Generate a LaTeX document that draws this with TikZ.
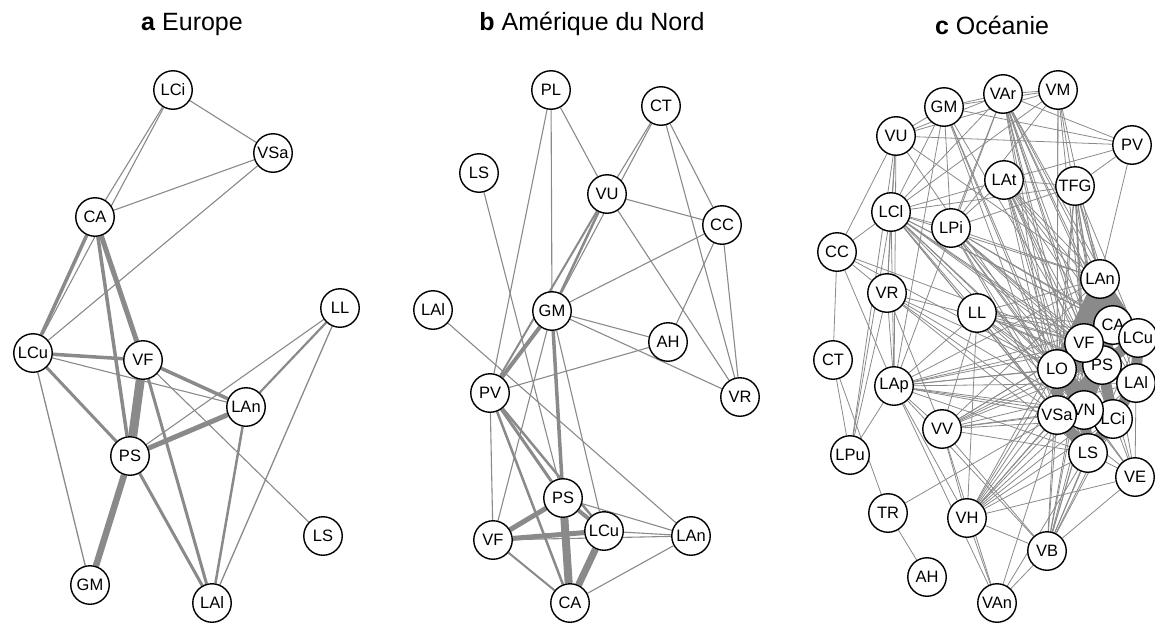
\documentclass[tikz,border=0pt]{standalone}
\usepackage{fontspec}
\setmainfont{Liberation Sans}
\usepackage{tikz}
\usetikzlibrary{backgrounds}
\definecolor{edgegray}{RGB}{138,138,138}
\tikzset{
  stn/.style={circle, draw=black, line width=1.4pt, fill=white, minimum size=38.5pt, inner sep=0pt, font=\fontsize{16.5}{16.5}\selectfont},
  lnk/.style={draw=edgegray, line width=1.1pt},
  ttl/.style={font=\fontsize{25}{25}\selectfont}
}
\begin{document}
\begin{tikzpicture}[x=1pt, y=-1pt]
        \useasboundingbox (0,0) rectangle (1155,624);
        \node[ttl] at (192,24) (ta) {\textbf{a} Europe};
        \node[ttl] at (592,24) (tb) {\textbf{b} Amérique du Nord};
        \node[ttl] at (992,25) (tc) {\textbf{c} Océanie};
        \node[stn] at (173,90)  (aLCi) {LCi};
        \node[stn] at (273,153) (aVSa) {VSa};
        \node[stn] at (95,217)  (aCA)  {CA};
        \node[stn] at (340,308) (aLL)  {LL};
        \node[stn] at (33,353)  (aLCu) {LCu};
        \node[stn] at (143,360) (aVF)  {VF};
        \node[stn] at (246,407) (aLAn) {LAn};
        \node[stn] at (130,456) (aPS)  {PS};
        \node[stn] at (323,536) (aLS)  {LS};
        \node[stn] at (90,585)  (aGM)  {GM};
        \node[stn] at (212,603) (aLAl) {LAl};
        \begin{scope}[on background layer]
          \draw[lnk] (aLCi) -- (aCA);
          \draw[lnk] (aLCi) -- (aLCu);
          \draw[lnk] (aLCi) -- (aVSa);
          \draw[lnk] (aVSa) -- (aCA);
          \draw[lnk] (aVSa) -- (aLCu);
          \draw[lnk, line width=3.5pt] (aCA) -- (aLCu);
          \draw[lnk, line width=3.5pt] (aCA) -- (aPS);
          \draw[lnk, line width=5pt]   (aCA) -- (aVF);
          \draw[lnk, line width=3.5pt] (aLCu) -- (aVF);
          \draw[lnk] (aLCu) -- (aLAn);
          \draw[lnk, line width=3pt]   (aLCu) -- (aPS);
          \draw[lnk, line width=1.3pt] (aLCu) -- (aGM);
          \draw[lnk, line width=3.5pt] (aVF) -- (aLAn);
          \draw[lnk, line width=9pt]   (aVF) -- (aPS);
          \draw[lnk, line width=3pt]   (aVF) -- (aLAl);
          \draw[lnk] (aVF) -- (aLS);
          \draw[lnk, line width=5pt]   (aLAn) -- (aPS);
          \draw[lnk, line width=2.2pt] (aLAn) -- (aLL);
          \draw[lnk, line width=2.5pt] (aLAn) -- (aLAl);
          \draw[lnk] (aLL) -- (aPS);
          \draw[lnk, line width=1.3pt] (aLL) -- (aLAl);
          \draw[lnk, line width=6.5pt] (aPS) -- (aGM);
          \draw[lnk, line width=3pt]   (aPS) -- (aLAl);
        \end{scope}
        \node[stn] at (551,90)  (bPL)  {PL};
        \node[stn] at (661,106) (bCT)  {CT};
        \node[stn] at (479,173) (bLS)  {LS};
        \node[stn] at (607,194) (bVU)  {VU};
        \node[stn] at (722,225) (bCC)  {CC};
        \node[stn] at (433,310) (bLAl) {LAl};
        \node[stn] at (552,311) (bGM)  {GM};
        \node[stn] at (668,342) (bAH)  {AH};
        \node[stn] at (490,393) (bPV)  {PV};
        \node[stn] at (740,397) (bVR)  {VR};
        \node[stn] at (563,498) (bPS)  {PS};
        \node[stn] at (604,531) (bLCu) {LCu};
        \node[stn] at (493,540) (bVF)  {VF};
        \node[stn] at (691,536) (bLAn) {LAn};
        \node[stn] at (570,603) (bCA)  {CA};
        \begin{scope}[on background layer]
          \draw[lnk] (bPL) -- (bGM);
          \draw[lnk] (bPL) -- (bVU);
          \draw[lnk] (bPL) -- (bPV);
          \draw[lnk] (bLS) -- (bPS);
          \draw[lnk] (bCT) -- (bVU);
          \draw[lnk] (bCT) -- (bGM);
          \draw[lnk] (bCT) -- (bCC);
          \draw[lnk] (bCT) -- (bVR);
          \draw[lnk] (bVU) -- (bCC);
          \draw[lnk] (bVU) -- (bVR);
          \draw[lnk, line width=2.5pt] (bVU) -- (bGM);
          \draw[lnk, line width=2pt]   (bVU) -- (bPV);
          \draw[lnk] (bCC) -- (bGM);
          \draw[lnk] (bCC) -- (bAH);
          \draw[lnk] (bCC) -- (bVR);
          \draw[lnk] (bGM) -- (bAH);
          \draw[lnk] (bGM) -- (bVR);
          \draw[lnk, line width=4pt]   (bGM) -- (bPV);
          \draw[lnk, line width=3.5pt] (bGM) -- (bPS);
          \draw[lnk] (bGM) -- (bVF);
          \draw[lnk] (bGM) -- (bLCu);
          \draw[lnk] (bLAl) -- (bLAn);
          \draw[lnk] (bAH) -- (bPV);
          \draw[lnk] (bPV) -- (bVF);
          \draw[lnk, line width=3pt]   (bPV) -- (bPS);
          \draw[lnk, line width=2.5pt] (bPV) -- (bLCu);
          \draw[lnk, line width=2.5pt] (bPV) -- (bCA);
          \draw[lnk, line width=5pt]   (bPS) -- (bVF);
          \draw[lnk, line width=8pt]   (bPS) -- (bCA);
          \draw[lnk, line width=4pt]   (bPS) -- (bLCu);
          \draw[lnk] (bPS) -- (bLAn);
          \draw[lnk, line width=5pt]   (bVF) -- (bLCu);
          \draw[lnk, line width=2pt]   (bVF) -- (bCA);
          \draw[lnk] (bVF) -- (bLAn);
          \draw[lnk, line width=7pt]   (bLCu) -- (bCA);
          \draw[lnk] (bLCu) -- (bLAn);
          \draw[lnk] (bCA) -- (bLAn);
        \end{scope}
        \node[stn] at (1003,94)  (cVAr) {VAr};
        \node[stn] at (1058,90)  (cVM)  {VM};
        \node[stn] at (944,107)  (cGM)  {GM};
        \node[stn] at (896,136)  (cVU)  {VU};
        \node[stn] at (1132,145) (cPV)  {PV};
        \node[stn] at (1004,180) (cLAt) {LAt};
        \node[stn] at (1075,186) (cTFG) {TFG};
        \node[stn] at (891,212)  (cLCl) {LCl};
        \node[stn] at (951,228)  (cLPi) {LPi};
        \node[stn] at (837,252)  (cCC)  {CC};
        \node[stn] at (887,293)  (cVR)  {VR};
        \node[stn] at (977,313)  (cLL)  {LL};
        \node[stn] at (833,360)  (cCT)  {CT};
        \node[stn] at (894,386)  (cLAp) {LAp};
        \node[stn] at (942,429)  (cVV)  {VV};
        \node[stn] at (850,455)  (cLPu) {LPu};
        \node[stn] at (888,513)  (cTR)  {TR};
        \node[stn] at (967,518)  (cVH)  {VH};
        \node[stn] at (1047,551) (cVB)  {VB};
        \node[stn] at (927,577)  (cAH)  {AH};
        \node[stn] at (997,603)  (cVAn) {VAn};
        \node[stn] at (1135,477) (cVE)  {VE};
        \node[stn] at (1102,365) (cPS)  {PS};
        \node[stn] at (1113,325) (cCA)  {CA};
        \node[stn] at (1138,338) (cLCu) {LCu};
        \node[stn] at (1084,343) (cVF)  {VF};
        \node[stn] at (1057,369) (cLO)  {LO};
        \node[stn] at (1136,383) (cLAl) {LAl};
        \node[stn] at (1113,419) (cLCi) {LCi};
        \node[stn] at (1084,410) (cVN)  {VN};
        \node[stn] at (1057,415) (cVSa) {VSa};
        \node[stn] at (1088,453) (cLS)  {LS};
        \node[stn] at (1100,279) (cLAn) {LAn};
        \begin{scope}[on background layer]
          \foreach \p in {cVAr,cLAt,cTFG,cLCl,cLPi,cLL,cLAp,cVV,cVH,cVB}
            \foreach \k in {cCA,cLCu,cVF,cPS,cLO,cLAl,cVSa,cVN,cLCi,cLS,cLAn}
              \draw[lnk, line width=0.8pt] (\p) -- (\k);
          \foreach \k in {cLAn,cVF,cLO,cPS,cVSa}
            \draw[lnk, line width=0.8pt] (cVM) -- (\k);
          \foreach \k in {cLO,cVF,cVSa,cLS}
            \draw[lnk, line width=0.8pt] (cGM) -- (\k);
          \foreach \k in {cLAn,cVN}
            \draw[lnk, line width=0.8pt] (cVU) -- (\k);
          \foreach \k in {cLO,cVSa,cVN,cLS,cVF}
            \draw[lnk, line width=0.8pt] (cVR) -- (\k);
          \foreach \k in {cLO,cVF}
            \draw[lnk, line width=0.8pt] (cCC) -- (\k);
          \foreach \k in {cLAn,cLO,cVSa,cVN,cLS,cLCi,cPS,cLAl}
            \draw[lnk, line width=0.8pt] (cVE) -- (\k);
          \foreach \k in {cLS,cVSa}
            \draw[lnk, line width=0.8pt] (cVAn) -- (\k);
          \foreach \a/\b in {cGM/cVAr,cVAr/cVM,cGM/cVM,cVU/cGM,cVU/cPV,cGM/cPV,cVAr/cPV,
              cVU/cLCl,cVU/cCC,cVU/cVR,cVU/cLAp,cGM/cLCl,cGM/cLPi,cGM/cLAp,
              cLCl/cCC,cLCl/cVR,cLCl/cLAp,cLCl/cLPu,cLCl/cLPi,cLCl/cLAt,cLCl/cTFG,
              cCC/cVR,cCC/cLAp,cCC/cCT,cCT/cLPu,cCT/cTR,cVR/cLAp,cVR/cLPu,cVR/cVV,
              cLAp/cLPu,cLAp/cVV,cLAp/cVH,cLAp/cVB,cLAp/cVAn,cVV/cVH,cVV/cVAn,
              cVV/cVB,cVH/cVB,cVH/cVAn,cVH/cVE,cVB/cVE,cVB/cVAn,cTR/cAH,cTR/cVSa,
              cLAt/cTFG,cLAt/cPV,cTFG/cPV,cPV/cLAn,cLPi/cLAt,cLPi/cTFG,cLL/cLCl,
              cLL/cLAp,cLL/cVV,cLL/cVH,cVAr/cLCl,cVAr/cLPi,cVAr/cVU,cVAr/cLAp,
              cVM/cLCl,cVM/cLPi,cVM/cVU,cVU/cLPu}
            \draw[lnk, line width=0.8pt] (\a) -- (\b);
          \foreach \a/\b in {cLAn/cCA,cLAn/cVF,cLAn/cLO,cLAn/cPS,cCA/cPS,cCA/cVF,
              cCA/cLCu,cLCu/cPS,cLCu/cLAl,cVF/cPS,cVF/cLO,cLO/cPS,cLO/cVN,cLO/cVSa,
              cPS/cVN,cPS/cLAl,cPS/cLCi,cLAl/cLCi,cVN/cLCi,cVN/cVSa,cVSa/cLS,
              cVN/cLS,cLCi/cLS,cLO/cLCi,cPS/cVSa,cLAn/cLCu}
            \draw[lnk, line width=11pt] (\a.center) -- (\b.center);
        \end{scope}
\end{tikzpicture}
\end{document}
